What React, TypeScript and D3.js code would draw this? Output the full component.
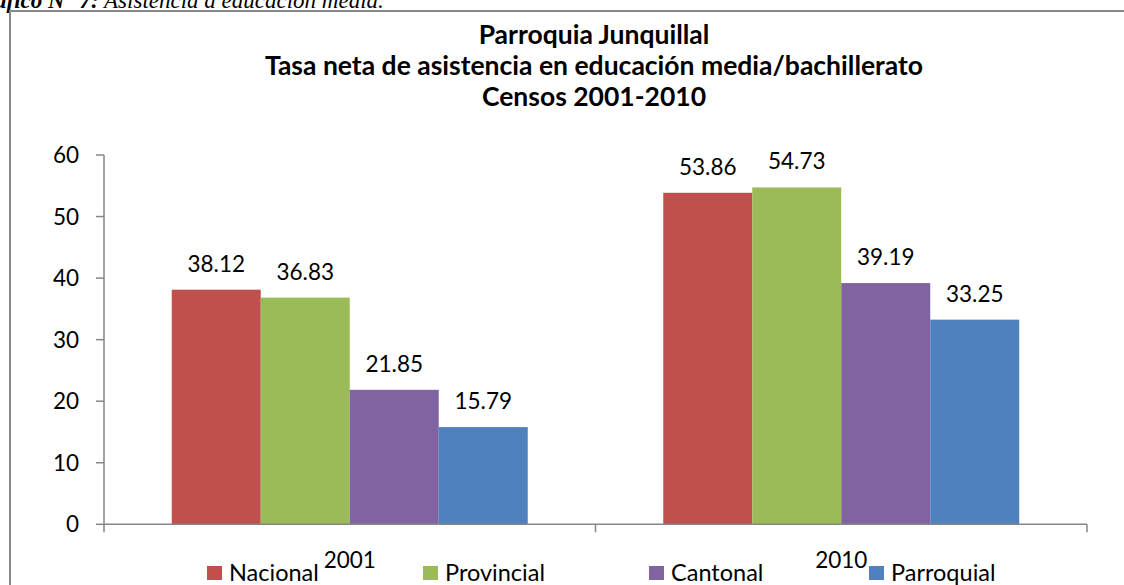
import React from "react";
import * as d3 from "d3";

const categories = ["2001", "2010"];
const seriesNames = ["Nacional", "Provincial", "Cantonal", "Parroquial"];
const nacional = [38.12, 53.86];
const provincial = [36.83, 54.73];
const cantonal = [21.85, 39.19];
const parroquial = [15.79, 33.25];
const yTicks = [0, 10, 20, 30, 40, 50, 60];
const titleLines = [
  "Parroquia Junquillal",
  "Tasa neta de asistencia en educación media/bachillerato",
  "Censos 2001-2010",
];
const colors = ["#C0504D", "#9BBB59", "#8064A2", "#4F81BD"];

const seriesValues = [nacional, provincial, cantonal, parroquial];

const W = 1124;
const H = 585;
const FONT = "Lato, 'Open Sans', sans-serif";
const FS = 22.5;
const AXIS = "#868686";

export default function App() {
  const x0 = 104;
  const x1 = 1087;
  const yBase = 524.3;
  const yTop = 155;

  const xScale = d3.scaleBand<string>().domain(categories).range([x0, x1]).padding(0);
  const bw = xScale.bandwidth();
  const gap = 67.75;
  const inner = d3
    .scaleBand<string>()
    .domain(seriesNames)
    .range([gap, bw - gap])
    .padding(0);
  const yScale = d3.scaleLinear().domain([0, 60]).range([yBase, yTop]);

  const legendX = [207, 423, 649, 869];

  return (
    <svg
      width={W}
      height={H}
      style={{ position: "absolute", left: 0, top: 0, background: "#fff" }}
      fontFamily={FONT}
    >
      <rect x={0} y={0} width={W} height={H} fill="#fff" />
      {/* caption cut at top */}
      <text
        x={-5}
        y={8}
        fontFamily="'Liberation Serif', 'Times New Roman', serif"
        fontSize={23}
        fontStyle="italic"
        fill="#000"
      >
        <tspan fontWeight="bold">áfico N° 7:</tspan>
        <tspan> Asistencia a educación media.</tspan>
      </text>
      {/* frame */}
      <path d={`M10,${H + 5}V11H${W + 5}`} fill="none" stroke="#888" strokeWidth={2} />

      {/* title */}
      {titleLines.map((t, i) => (
        <text
          key={t}
          x={594}
          y={44 + i * 31}
          textAnchor="middle"
          fontWeight="bold"
          fontSize={26.5}
          fill="#000"
        >
          {t}
        </text>
      ))}

      {/* y axis */}
      <line x1={x0} x2={x0} y1={yTop} y2={yBase} stroke={AXIS} strokeWidth={1.5} />
      {yTicks.map((v) => (
        <g key={v}>
          <line x1={96} x2={x0} y1={yScale(v)} y2={yScale(v)} stroke={AXIS} strokeWidth={1.5} />
          <text x={79} y={yScale(v) + 8} textAnchor="end" fontSize={FS} fill="#000">
            {v}
          </text>
        </g>
      ))}

      {/* bars */}
      {categories.map((c, ci) =>
        seriesNames.map((s, si) => {
          const v = seriesValues[si][ci];
          const bx = (xScale(c) as number) + (inner(s) as number);
          const by = yScale(v);
          return (
            <g key={c + s}>
              <rect
                x={bx}
                y={by}
                width={inner.bandwidth()}
                height={yBase - by}
                fill={colors[si]}
              />
              <text
                x={bx + inner.bandwidth() / 2}
                y={by - 18}
                textAnchor="middle"
                fontSize={FS}
                fill="#000"
              >
                {v.toFixed(2)}
              </text>
            </g>
          );
        })
      )}

      {/* x axis */}
      <line x1={x0} x2={x1} y1={yBase} y2={yBase} stroke={AXIS} strokeWidth={1.5} />
      {[x0, ...categories.map((c) => (xScale(c) as number) + bw)].map((tx, i) => (
        <line key={i} x1={tx} x2={tx} y1={yBase} y2={yBase + 8} stroke={AXIS} strokeWidth={1.5} />
      ))}

      {/* legend */}
      {seriesNames.map((s, i) => (
        <g key={s}>
          <rect x={legendX[i]} y={566} width={15} height={14} fill={colors[i]} />
          <text x={legendX[i] + 22} y={581} fontSize={23.5} fill="#000">
            {s}
          </text>
        </g>
      ))}

      {/* category labels */}
      {categories.map((c) => (
        <text
          key={c}
          x={(xScale(c) as number) + bw / 2}
          y={568}
          textAnchor="middle"
          fontSize={FS}
          fill="#000"
        >
          {c}
        </text>
      ))}
    </svg>
  );
}
